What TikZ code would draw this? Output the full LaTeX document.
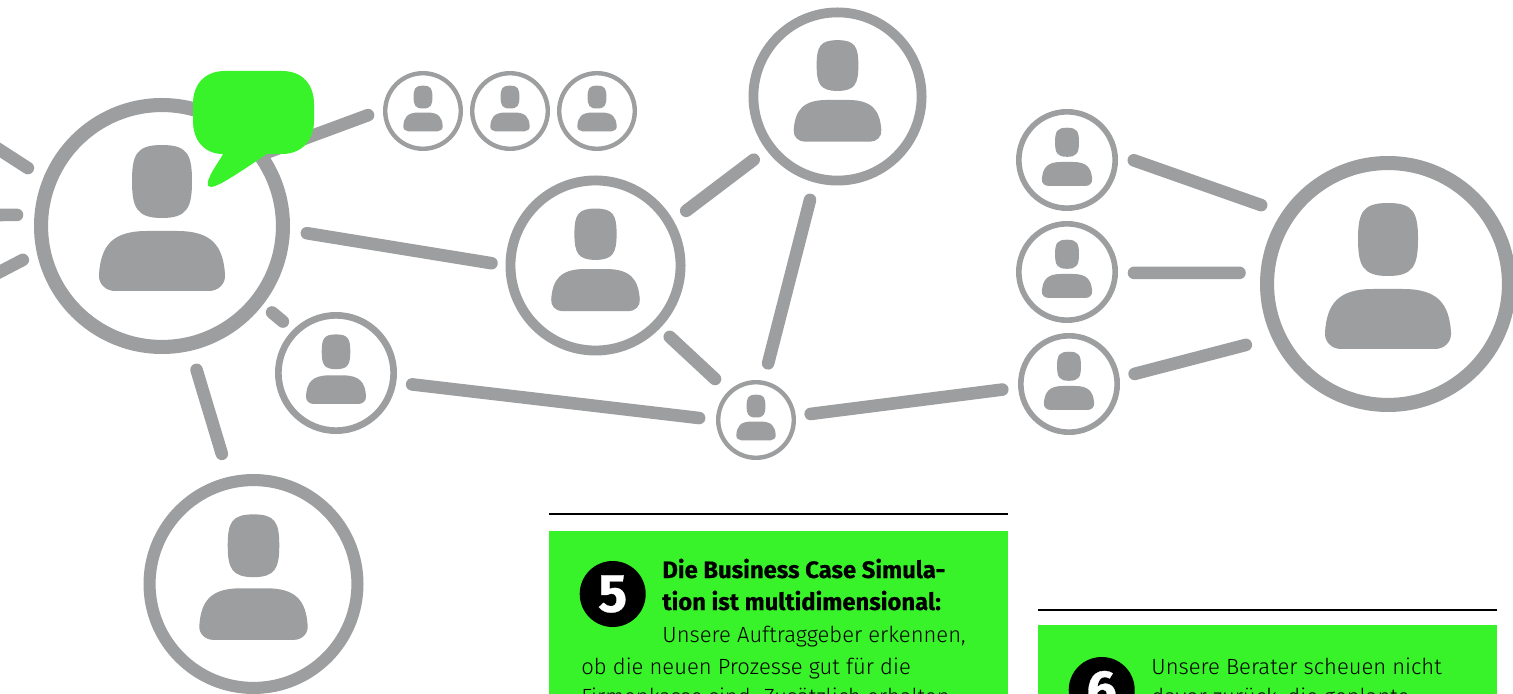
\documentclass[tikz,border=0pt]{standalone}
\usepackage{fontspec}
\setmainfont{Fira Sans Light}
\newfontfamily\heavyfont{Fira Sans}[FakeBold=0.5]
\definecolor{netgray}{HTML}{9D9E9F}
\definecolor{signal}{HTML}{39F32A}
\tikzset{
  ring/.style={circle,draw=netgray,fill=white,inner sep=0pt},
  link/.style={draw=netgray,line width=6.3pt,line cap=round},
  panel/.style={fill=signal},
  badge/.style={circle,fill=black,text=white,inner sep=0pt,minimum size=33pt,font=\fontsize{27}{27}\selectfont\heavyfont\bfseries},
  txt/.style={anchor=base west,inner sep=0pt,font=\fontsize{11}{16}\selectfont},
  headline/.style={txt,font=\fontsize{11.9}{16}\selectfont\heavyfont\bfseries}
}
\begin{document}
\begin{tikzpicture}[x=0.5pt,y=-0.5pt]
\useasboundingbox (0,0) rectangle (1513,694);
\clip (0,0) rectangle (1513,694);
% people
\foreach \n/\x/\y/\r in {boss/162/226/128,low/253.5/584/110,near/336/373/61,
  ta/423/111/40,tb/510/111/40,tc/597/111/40,mid/595.5/265.5/90,top/837.5/96.5/89,hub/756/420/40,
  ra/1067/160/51,rb/1067/272/51,rc/1069/384/51,far/1388/284/128} {
  \node[ring,minimum size=0.945*\r pt,line width=0.055*\r pt] (\n) at (\x,\y) {};
  \begin{scope}[shift={(\x,\y)},scale=\r/128]
    \fill[netgray] (-30,-45) .. controls (-30,-72) and (-25,-81) .. (0,-81) .. controls (25,-81) and (30,-72) .. (30,-45)
      .. controls (30,-18) and (25,-8) .. (0,-8) .. controls (-25,-8) and (-30,-18) .. (-30,-45) -- cycle;
    \fill[netgray] (-63,48) .. controls (-61,20) and (-50,5) .. (-15,5) -- (15,5) .. controls (50,5) and (61,20) .. (63,48)
      .. controls (64,58) and (56,65) .. (47,65) -- (-47,65) .. controls (-56,65) and (-64,58) .. (-63,48) -- cycle;
  \end{scope}
}
% links
\foreach \a/\p/\b/\q/\s/\e in {boss/-2/mid/180/8.6/7.1,boss/35/ta/178/0/8,boss/-38/near/135/6/6.5,boss/-77/low/103/10/12,
  near/-9.5/hub/180/8/8.5,mid/30/top/217/8/8,top/255/hub/79/9/9,mid/-44/hub/134/6.5/9,hub/6/rc/184.5/7.5/8,
  ra/6.5/far/146.4/8.5/11,rb/-1/far/175/8/10.5,rc/7/far/205/7.75/13.5}
  \draw[link,shorten <=\s pt,shorten >=\e pt] (\a.\p)--(\b.\q);
\coordinate (wa) at (-10,143.6);
\coordinate (wb) at (-10,215);
\coordinate (wc) at (-10,277);
\foreach \w/\q/\e in {wa/158/9.2,wb/175/8.75,wc/192/7.9}
  \draw[link,shorten >=\e pt] (\w)--(boss.\q);
% speech bubble
\fill[signal] (225,71) -- (282,71) .. controls (303,71) and (314,85) .. (314,104) -- (314,121)
  .. controls (314,140) and (302,154) .. (282,154) -- (267,154) .. controls (240,172) and (218,187) .. (211,187)
  .. controls (205,187) and (208,180) .. (212,172) .. controls (216,165) and (220,160) .. (223,154)
  .. controls (204,154) and (193,140) .. (193,121) -- (193,104)
  .. controls (193,85) and (204,71) .. (225,71) -- cycle;
% panels
\draw[black,line width=1pt] (549,514.3)--(1008,514.3);
\fill[panel] (549,531) rectangle (1008,700);
\draw[black,line width=1pt] (1038,610)--(1497,610);
\fill[panel] (1038,625) rectangle (1497,700);
\node[badge] (five) at (612.7,594) {5};
\node[badge] (six) at (1101.7,690) {6};
\node[headline] (hla) at (662,578) {Die Business Case Simula-};
\node[headline] (hlb) at (662,610) {tion ist multidimensional:};
\node[txt] (la) at (662,642) {Unsere Auftraggeber erkennen,};
\node[txt] (lb) at (581,674) {ob die neuen Prozesse gut für die};
\node[txt] (lc) at (581,704) {Firmenkasse sind. Zusätzlich erhalten};
\node[txt] (ld) at (1151,674) {Unsere Berater scheuen nicht};
\node[txt] (le) at (1151,704) {davor zurück, die geplante};
\end{tikzpicture}
\end{document}
